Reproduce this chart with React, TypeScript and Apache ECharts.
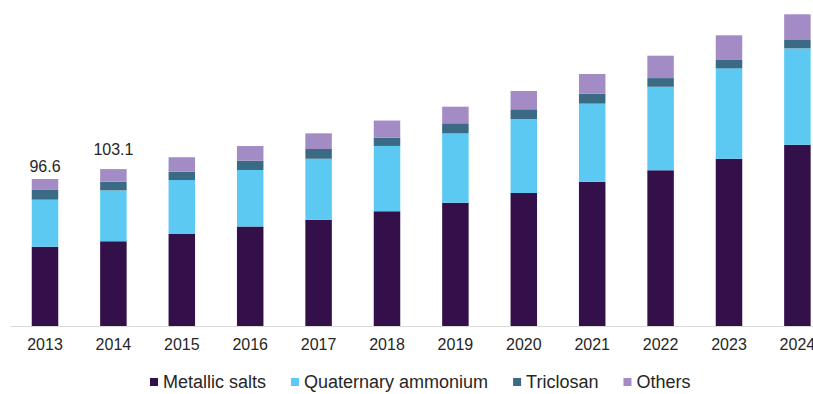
import React, { useEffect, useRef } from "react";
import * as echarts from "echarts";

const years = ["2013", "2014", "2015", "2016", "2017", "2018", "2019", "2020", "2021", "2022", "2023", "2024"];
const metallicSalts = [52.1, 55.7, 60.4, 65.3, 69.8, 75.4, 81.0, 87.4, 94.8, 102.3, 109.9, 119.1];
const quaternaryAmmonium = [30.9, 33.4, 35.5, 37.2, 40.1, 42.9, 45.6, 48.6, 51.3, 54.9, 59.4, 63.3];
const triclosan = [6.4, 5.7, 5.5, 6.1, 6.4, 5.5, 6.6, 6.4, 6.6, 5.7, 5.5, 5.5];
const others = [7.2, 8.3, 9.5, 9.6, 10.3, 11.2, 10.9, 12.0, 12.9, 14.7, 16.2, 16.9];
const totalLabels: (string | null)[] = ["96.6", "103.1", null, null, null, null, null, null, null, null, null, null];
const labelDistances = [4, 12];

const seriesNames = ["Metallic salts", "Quaternary ammonium", "Triclosan", "Others"];
const colors = ["#34104a", "#5bc9f1", "#3b6b84", "#a38cc6"];

export default function App() {
  const ref = useRef<HTMLDivElement>(null);
  useEffect(() => {
    if (!ref.current) return;
    const chart = echarts.init(ref.current, undefined, { renderer: "svg" });
    const font = "'Liberation Sans', Arial, sans-serif";
    const values = [metallicSalts, quaternaryAmmonium, triclosan, others];
    const series = values.map((arr, i) => ({
      name: seriesNames[i],
      type: "bar",
      stack: "total",
      barWidth: 26.5,
      itemStyle: { color: colors[i] },
      data:
        i === 3
          ? arr.map((v, j) =>
              totalLabels[j]
                ? {
                    value: v,
                    label: {
                      show: true,
                      position: "top",
                      distance: labelDistances[j],
                      formatter: totalLabels[j],
                      fontSize: 16,
                      fontFamily: font,
                      color: "#262626",
                    },
                  }
                : v
            )
          : arr,
    }));
    chart.setOption({
      animation: false,
      backgroundColor: "#ffffff",
      grid: { left: 10.8, right: 0.4, top: 0, bottom: 68, containLabel: false },
      legend: {
        data: seriesNames,
        left: 150,
        top: 371,
        padding: 0,
        icon: "rect",
        itemWidth: 8,
        itemHeight: 8,
        itemGap: 25,
        textStyle: { fontSize: 18, lineHeight: 22, fontFamily: font, color: "#262626" },
      },
      xAxis: {
        type: "category",
        data: years,
        axisLine: { show: true, lineStyle: { color: "#d9d9d9", width: 1 } },
        axisTick: { show: false },
        axisLabel: { fontSize: 16, fontFamily: font, color: "#262626", margin: 10, interval: 0 },
      },
      yAxis: {
        type: "value",
        min: 0,
        max: 214.2,
        show: false,
        splitLine: { show: false },
      },
      series,
    });
    return () => chart.dispose();
  }, []);
  return (
    <div
      style={{ position: "fixed", left: 0, top: 0, width: 813, height: 394, overflow: "hidden", background: "#fff" }}
    >
      <div ref={ref} style={{ width: 832, height: 394 }} />
    </div>
  );
}
